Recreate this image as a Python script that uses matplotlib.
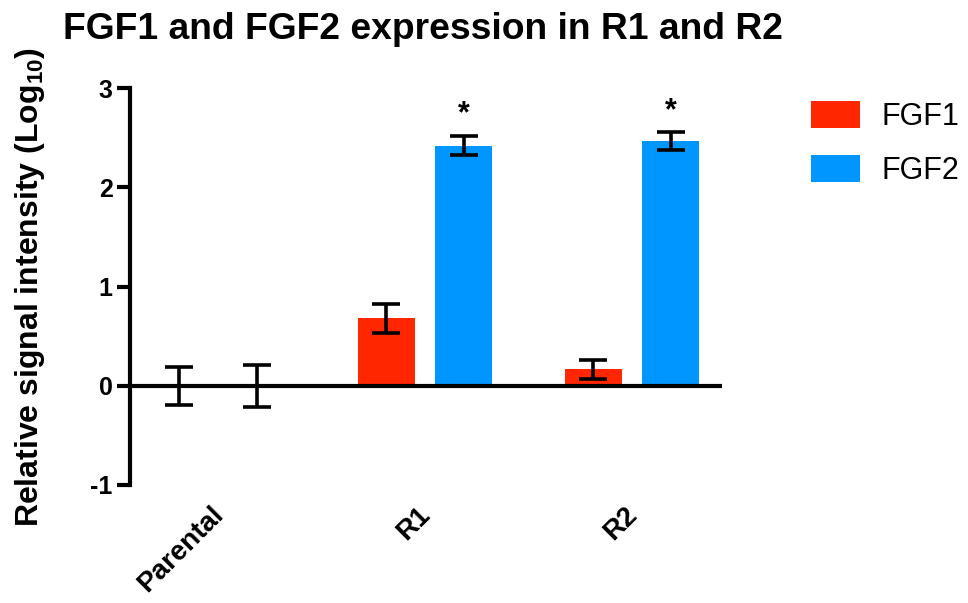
import numpy as np
import matplotlib
matplotlib.use("Agg")
import matplotlib.pyplot as plt
from matplotlib.transforms import ScaledTranslation

plt.rcParams['font.family'] = ['Liberation Sans', 'DejaVu Sans']
plt.rcParams['mathtext.fontset'] = 'custom'
plt.rcParams['mathtext.rm'] = 'Liberation Sans:bold'
plt.rcParams['mathtext.bf'] = 'Liberation Sans:bold'
plt.rcParams['axes.unicode_minus'] = False

groups = ["Parental", "R1", "R2"]
fgf1 = [0.0, 0.68, 0.165]
fgf1_err = [0.19, 0.146, 0.095]
fgf2 = [0.0, 2.42, 2.465]
fgf2_err = [0.21, 0.10, 0.088]
significant = [False, True, True]  # FGF2 marked with *

red = "#FF2600"
blue = "#0096FF"

fig = plt.figure(figsize=(9.68, 6.03), dpi=100)
ax = fig.add_axes([130/968, 1 - 485/603, 592/968, 397/603])

x = np.arange(len(groups))
w = 0.275
off = 0.187
ekw = dict(elinewidth=2.6, capthick=2.6, ecolor="black")
ax.bar(x - off, fgf1, w, yerr=fgf1_err, color=red, label="FGF1",
       capsize=10, error_kw=ekw, zorder=2)
ax.bar(x + off, fgf2, w, yerr=fgf2_err, color=blue, label="FGF2",
       capsize=10, error_kw=ekw, zorder=2)

for xi, v, e, s in zip(x, fgf2, fgf2_err, significant):
    if s:
        ax.text(xi + off, v + e + 0.13, "*", ha="center", va="baseline",
                fontsize=22, fontweight="bold")

ax.axhline(0, color="black", lw=3, zorder=3)
ax.set_xlim(-0.425, 2.435)
ax.set_ylim(-1, 3)
ax.set_yticks([-1, 0, 1, 2, 3])
ax.set_xticks(x)
ax.set_xticklabels(groups)
for spine in ["top", "right", "bottom"]:
    ax.spines[spine].set_visible(False)
ax.spines["left"].set_linewidth(3)
ax.tick_params(axis="y", length=9.5, width=3, pad=3, labelsize=18)
ax.tick_params(axis="x", length=0, pad=12, labelsize=20)
for lab in ax.get_yticklabels() + ax.get_xticklabels():
    lab.set_fontweight("bold")
shift = ScaledTranslation(-8/100, 0, fig.dpi_scale_trans)
for lab in ax.get_xticklabels():
    lab.set_rotation(45)
    lab.set_ha("right")
    lab.set_rotation_mode("anchor")
    lab.set_transform(lab.get_transform() + shift)

ax.set_ylabel(r"Relative signal intensity (Log$_{\mathbf{10}}$)",
              fontsize=23, fontweight="bold")
ax.yaxis.set_label_coords(-0.14, 0.5)

fig.text(423/968, 1 - 39/603, "FGF1 and FGF2 expression in R1 and R2",
         ha="center", va="baseline", fontsize=26.8, fontweight="bold")

fig.legend(loc="upper left", bbox_to_anchor=(811/968, 1 - 101/603),
           frameon=False, fontsize=22, handlelength=1.6, handleheight=1.0,
           handletextpad=0.72, labelspacing=0.75, borderpad=0, borderaxespad=0)

fig.savefig("out.png", dpi=100)
